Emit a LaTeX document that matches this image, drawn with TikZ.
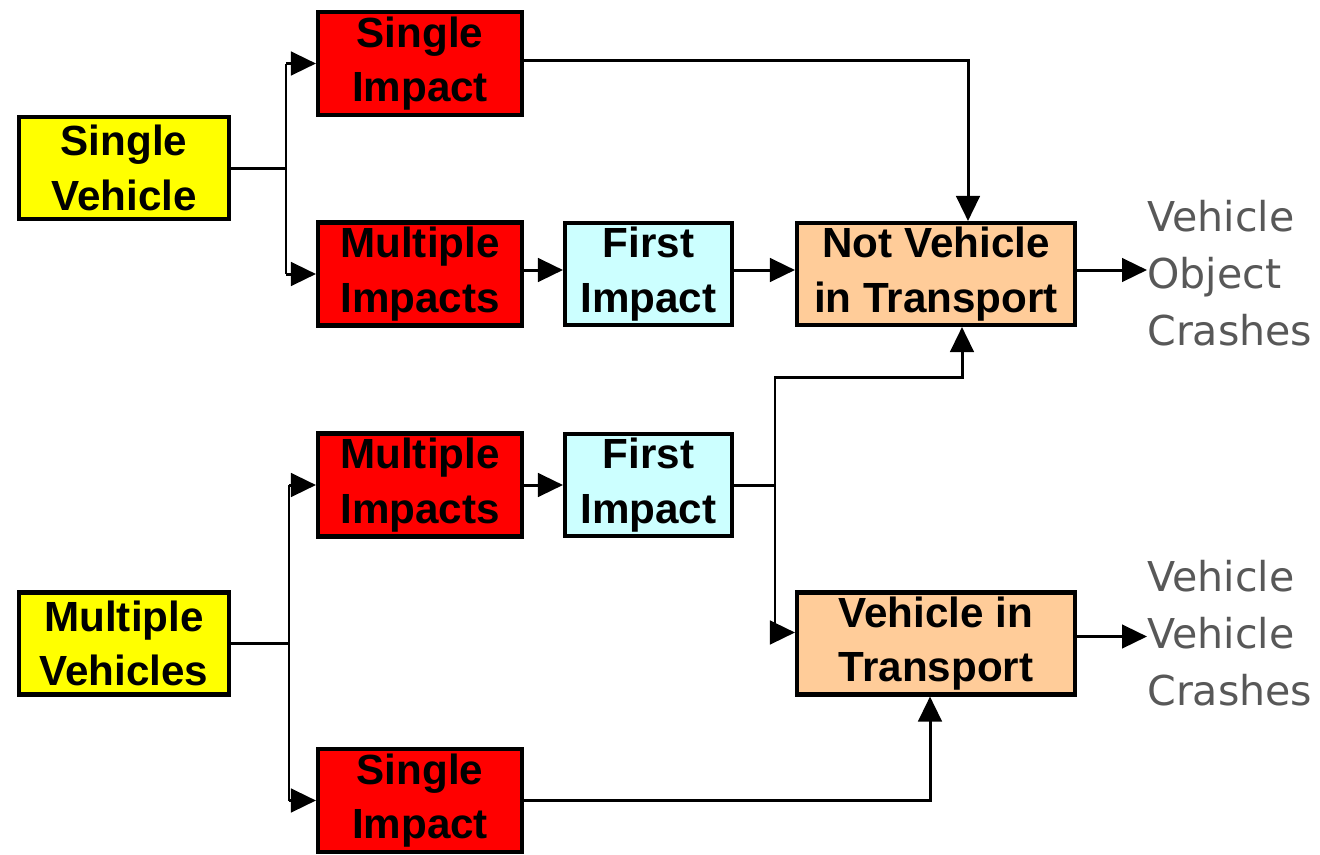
\documentclass[tikz,border=0pt]{standalone}
\usepackage{fontspec}
\setmainfont{Liberation Sans}
\newfontfamily\crashfont{DejaVu Sans}
\usepackage{tikz}
\usetikzlibrary{arrows.meta}
\usetikzlibrary{positioning}
\definecolor{boxyellow}{RGB}{255,255,0}
\definecolor{boxred}{RGB}{255,0,0}
\definecolor{boxcyan}{RGB}{204,255,255}
\definecolor{boxorange}{RGB}{255,204,153}
\definecolor{crashgray}{RGB}{88,88,88}
\tikzstyle{line} = [line width=1.7pt]
\tikzstyle{arrow} = [line width=1.7pt,-{Triangle[length=0.5cm,width=0.47cm]}]
\tikzstyle{box} = [
    rectangle, draw=black, line width=2.3pt, minimum height=2.04cm, align=center,
    inner sep=0pt, font=\fontsize{24}{31}\selectfont\bfseries]
\tikzstyle{vehicle} = [box, fill=boxyellow, minimum width=4.2cm]
\tikzstyle{impact} = [box, fill=boxred, minimum width=4.08cm, minimum height=2.06cm]
\tikzstyle{first} = [box, fill=boxcyan, minimum width=3.34cm]
\tikzstyle{transport} = [box, fill=boxorange, minimum width=5.56cm]
\tikzstyle{crash} = [
    align=left, anchor=west, inner sep=0pt, text=crashgray,
    font=\crashfont\fontsize{23.4}{32.6}\selectfont]

\begin{document}
\begin{tikzpicture}
\useasboundingbox (0,0) rectangle (26.4,-17.08);

\node (single) [vehicle] at (2.48,-3.36) {Single\\Vehicle};
\node (multiple) [vehicle] at (2.48,-12.87) {Multiple\\Vehicles};

\node (impact1) [impact] at (8.4,-1.27) {Single\\Impact};
\node (impacts1) [impact] at (8.4,-5.48) {Multiple\\Impacts};
\node (first1) [first] at (12.97,-5.48) {First\\Impact};
\node (notvit) [transport] at (18.72,-5.48) {Not Vehicle\\in Transport};

\node (impacts2) [impact] at (8.4,-9.7) {Multiple\\Impacts};
\node (first2) [first] at (12.97,-9.7) {First\\Impact};
\node (vit) [transport] at (18.72,-12.87) {Vehicle in\\Transport};
\node (impact2) [impact] at (8.4,-16.01) {Single\\Impact};

\node (objcrash) [crash] at (22.94,-5.46) {Vehicle\\Object\\Crashes};
\node (vehcrash) [crash] at (22.94,-12.66) {Vehicle\\Vehicle\\Crashes};

% single vehicle branch
\coordinate (singlebus) at (5.72,-3.36);
\draw[line] (single.east) -- (singlebus);
\draw[line] (singlebus |- impact1.west) -- (singlebus |- impacts1.west);
\draw[arrow] (singlebus |- impact1.west) -- (impact1.west);
\draw[arrow] (singlebus |- impacts1.west) -- (impacts1.west);

\draw[arrow] ([yshift=0.06cm]impact1.east) -| ([xshift=0.64cm]notvit.north);
\draw[arrow] ([yshift=0.08cm]impacts1.east) -- ([yshift=0.08cm]first1.west);
\draw[arrow] ([yshift=0.08cm]first1.east) -- ([yshift=0.08cm]notvit.west);
\draw[arrow] ([yshift=0.08cm]notvit.east) -- ([yshift=0.08cm]notvit.east -| objcrash.west);

% multiple vehicles branch
\coordinate (multibus) at (5.78,-12.87);
\draw[line] (multiple.east) -- (multibus);
\draw[line] (multibus |- impacts2.west) -- (multibus |- impact2.west);
\draw[arrow] (multibus |- impacts2.west) -- (impacts2.west);
\draw[arrow] (multibus |- impact2.west) -- (impact2.west);

\draw[arrow] (impacts2.east) -- (first2.west);
\coordinate (firstbus) at (15.5,-9.7);
\draw[line] (first2.east) -- (firstbus);
\draw[arrow] (firstbus) -- ++(0,2.16) -| ([xshift=0.52cm]notvit.south);
\draw[arrow] (firstbus) |- ([yshift=0.22cm]vit.west);

\draw[arrow] (impact2.east) -| ([xshift=-0.12cm]vit.south);
\draw[arrow] ([yshift=0.14cm]vit.east) -- ([yshift=0.14cm]vit.east -| vehcrash.west);
\end{tikzpicture}
\end{document}
